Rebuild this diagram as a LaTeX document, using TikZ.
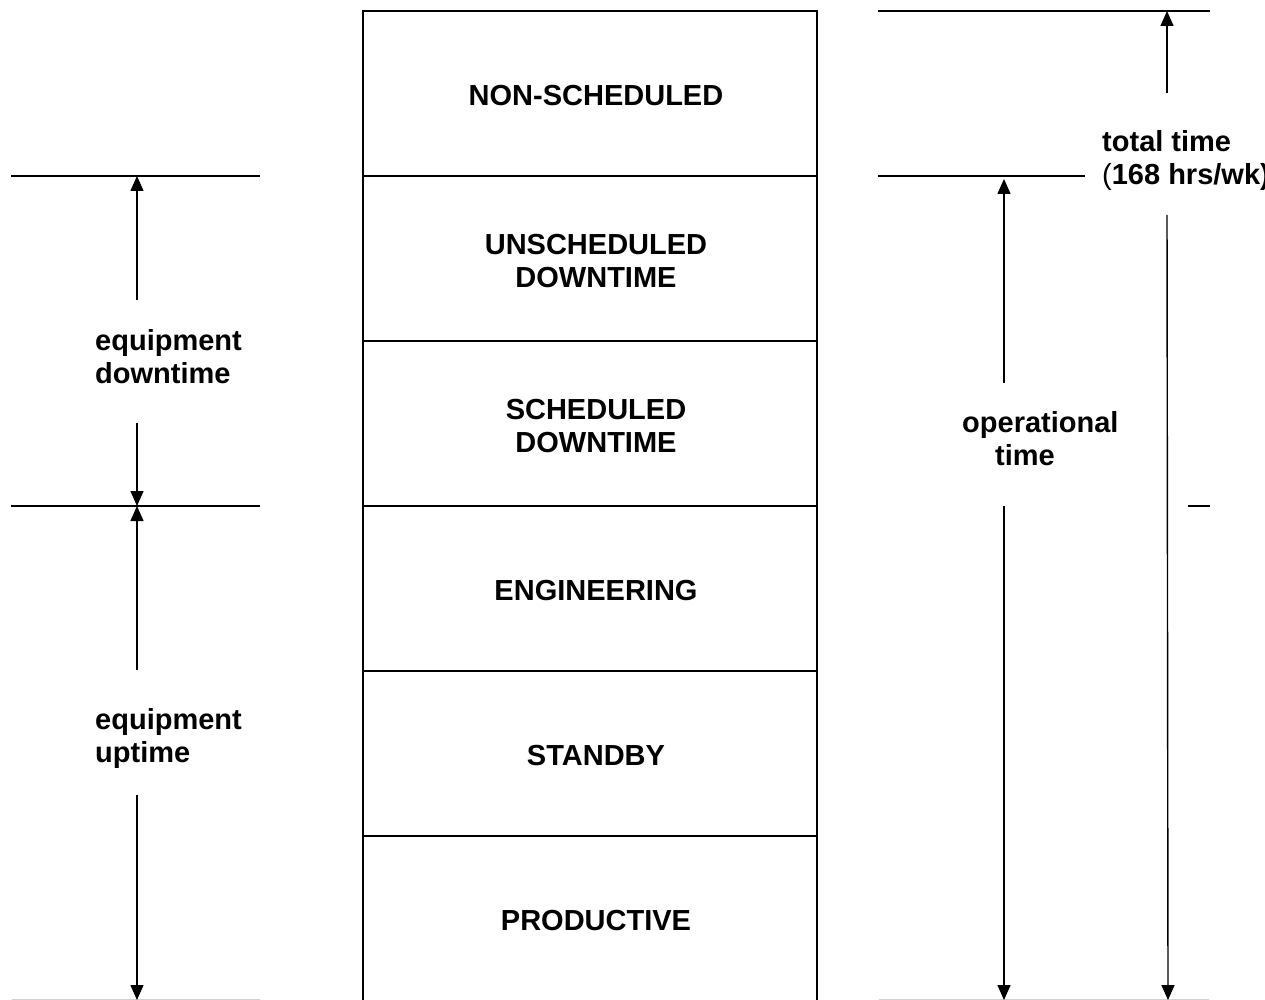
\documentclass[tikz,border=0pt]{standalone}
\usepackage{fontspec}
\setmainfont{Liberation Sans}
\usetikzlibrary{arrows.meta}
\begin{document}
\begin{tikzpicture}[x=1pt,y=-1pt,
  every node/.style={font=\fontsize{29}{33}\selectfont\bfseries},
  band/.style={draw,line width=1.6pt,minimum width=454pt,minimum height=165pt,inner sep=0pt},
  bandtext/.style={align=center,inner sep=0pt},
  rule/.style={line width=1.8pt},
  faint/.style={line width=1pt,draw=black!18},
  dim/.style={line width=1.4pt,-{Triangle[width=13pt,length=15pt]}},
  lbl/.style={align=left,anchor=west,inner sep=0pt}]
\useasboundingbox (0,0) rectangle (1265,1000);
\clip (0,0) rectangle (1265,1000);

% stacked time categories
\node[band] (ns)   at (590,93.5)  {};
\node[band] (ud)   at (590,258.5) {};
\node[band] (sd)   at (590,423.5) {};
\node[band] (eng)  at (590,588.5) {};
\node[band] (stb)  at (590,753.5) {};
\node[band] (prod) at (590,918.5) {};
\node[bandtext] (nst)   at ([shift={(6,2.5)}]ns.center)   {NON-SCHEDULED};
\node[bandtext] (udt)   at ([shift={(6,2.5)}]ud.center)   {UNSCHEDULED\\DOWNTIME};
\node[bandtext] (sdt)   at ([shift={(6,2.5)}]sd.center)   {SCHEDULED\\DOWNTIME};
\node[bandtext] (engt)  at ([shift={(6,2.5)}]eng.center)  {ENGINEERING};
\node[bandtext] (stbt)  at ([shift={(6,2.5)}]stb.center)  {STANDBY};
\node[bandtext] (prodt) at ([shift={(6,2.5)}]prod.center) {PRODUCTIVE};

% left-hand reference lines
\coordinate (lA1) at (11,176);  \coordinate (lA2) at (260,176);
\coordinate (lB1) at (11,506);  \coordinate (lB2) at (260,506);
\coordinate (lC1) at (12,999);  \coordinate (lC2) at (260,999);
\draw[rule] (lA1) -- (lA2);
\draw[rule] (lB1) -- (lB2);
\draw[faint] (lC1) -- (lC2);

% right-hand reference lines
\coordinate (rA1) at (878,11);   \coordinate (rA2) at (1210,11);
\coordinate (rB1) at (878,176);  \coordinate (rB2) at (1085,176);
\coordinate (rC1) at (1188,506); \coordinate (rC2) at (1210,506);
\coordinate (rD1) at (879,999);  \coordinate (rD2) at (1209,999);
\draw[rule] (rA1) -- (rA2);
\draw[rule] (rB1) -- (rB2);
\draw[line width=1.4pt] (rC1) -- (rC2);
\draw[faint] (rD1) -- (rD2);

% labels
\node[lbl] (edown) at (95,357) {equipment\\downtime};
\node[lbl] (eup)   at (95,738) {equipment\\uptime};
\node[lbl] (optime) at (962,439) {operational\\\hspace{33pt}time};
\node[lbl] (total) at (1102,161) {total time\\{\mdseries(}168 hrs/wk)};

% dimension arrows: equipment downtime
\coordinate (a1) at (137,300); \coordinate (a1t) at (137,176);
\coordinate (a2) at (137,423); \coordinate (a2t) at (137,506);
\draw[dim] (a1) -- (a1t);
\draw[dim] (a2) -- (a2t);

% equipment uptime
\coordinate (b1) at (137,670); \coordinate (b1t) at (137,506);
\coordinate (b2) at (137,795); \coordinate (b2t) at (137,1000);
\draw[dim] (b1) -- (b1t);
\draw[dim] (b2) -- (b2t);

% operational time
\coordinate (c1) at (1004,383); \coordinate (c1t) at (1004,179);
\coordinate (c2) at (1004,506); \coordinate (c2t) at (1004,1000);
\draw[dim] (c1) -- (c1t);
\draw[dim] (c2) -- (c2t);

% total time
\coordinate (d1) at (1167,93);  \coordinate (d1t) at (1167,11);
\coordinate (d2) at (1167,215); \coordinate (d2t) at (1168,1000);
\draw[dim] (d1) -- (d1t);
\draw[dim] (d2) -- (d2t);
\end{tikzpicture}
\end{document}
